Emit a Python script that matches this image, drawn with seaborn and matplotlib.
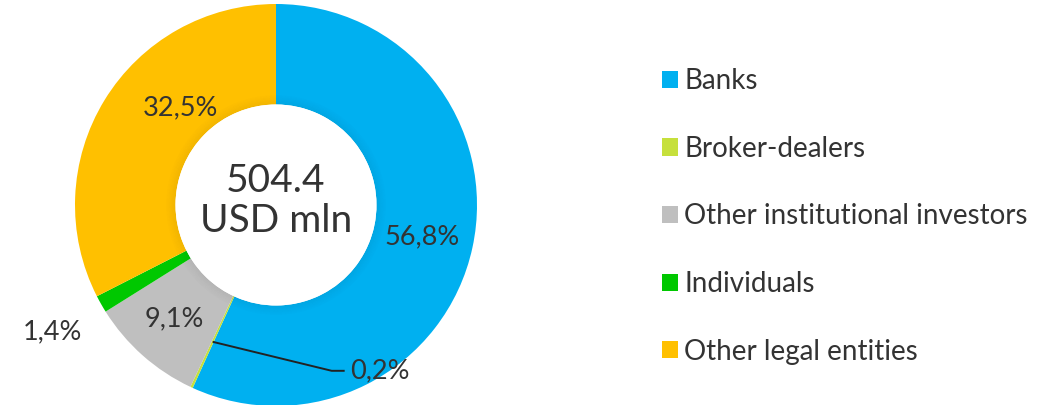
import numpy as np
import matplotlib
matplotlib.use("Agg")
import matplotlib.pyplot as plt
from matplotlib.patches import Circle, Patch, Wedge
import seaborn as sns

categories = ["Banks", "Broker-dealers", "Other institutional investors",
              "Individuals", "Other legal entities"]
shares = [56.8, 0.2, 9.1, 1.4, 32.5]
share_labels = ["56,8%", "0,2%", "9,1%", "1,4%", "32,5%"]
total_text = "504.4\nUSD mln"
colors = ["#00B0F0", "#C6E03C", "#BFBFBF", "#00C800", "#FFC000"]

sns.set_theme(style="white")
plt.rcParams["font.family"] = ["Lato", "DejaVu Sans"]
TXT = "#333333"

fig = plt.figure(figsize=(10.54, 4.05), dpi=100)
ax = fig.add_axes([0, 0, 1, 1])

cx, cy, R = 276, 200, 201
ring = 0.5
wedges, _ = ax.pie(shares, colors=sns.color_palette(colors), startangle=90,
                   counterclock=False, center=(cx, cy), radius=R,
                   wedgeprops=dict(width=R * ring, linewidth=0),
                   frame=True)
ax.set_xlim(0, 1054)
ax.set_ylim(0, 405)
ax.set_aspect("equal")
ax.axis("off")

# soft shadow around the hole
r_in = R * (1 - ring)
for k in range(8):
    ax.add_patch(Wedge((cx, cy), r_in + 1 + k * 1.2, 0, 360, width=1.2,
                       facecolor="black", alpha=0.05 * (1 - k / 8), lw=0))
ax.add_patch(Circle((cx, cy), r_in, facecolor="white", lw=0, zorder=3))

ax.text(cx, cy + 4, total_text, ha="center", va="center", fontsize=28,
        color=TXT, linespacing=1.12, zorder=4)

# percentage labels placed along each wedge's mid angle
radius_factor = [0.745, None, 0.76, 1.28, 0.68]
angle_shift = [0, 0, 0, 0, -14]
for w, lab, rf, da in zip(wedges, share_labels, radius_factor, angle_shift):
    mid = np.deg2rad((w.theta1 + w.theta2) / 2 + da)
    if rf is None:
        # tiny wedge: leader line from the ring middle
        rm = R * 0.75
        x0, y0 = cx + rm * np.cos(mid), cy + rm * np.sin(mid)
        x1, y1 = x0 + 119, y0 - 29
        ax.plot([x0, x1, x1 + 13], [y0, y1, y1], color="#222222", lw=1.4,
                zorder=5, solid_capstyle="butt")
        ax.text(x1 + 18, y1, lab, ha="left", va="center", fontsize=19.5,
                color=TXT, zorder=5)
    else:
        ax.text(cx + R * rf * np.cos(mid), cy + R * rf * np.sin(mid), lab,
                ha="center", va="center", fontsize=19.5, color=TXT, zorder=5)

handles = [Patch(facecolor=c, edgecolor="none") for c in colors]
leg = ax.legend(handles, categories, loc="upper left",
                bbox_to_anchor=(662 / 1054, 1 - 68 / 405), frameon=False,
                fontsize=20, handlelength=0.58, handleheight=0.58,
                handletextpad=0.22, labelspacing=1.5, borderaxespad=0,
                borderpad=0)
for t in leg.get_texts():
    t.set_color(TXT)

fig.savefig("out.png", dpi=100)
